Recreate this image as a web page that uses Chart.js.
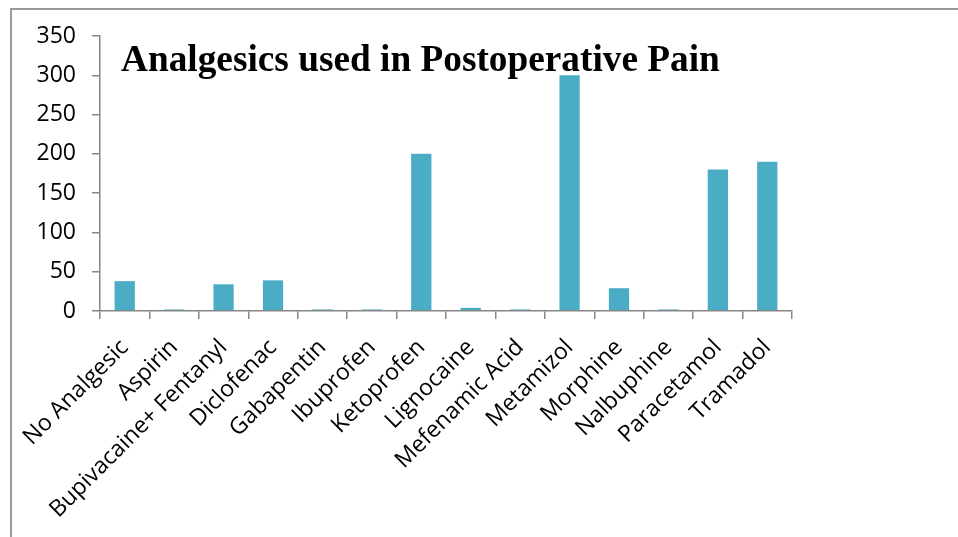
<!DOCTYPE html>
<html>
<head>
<meta charset="utf-8">
<script src="https://cdn.jsdelivr.net/npm/chart.js@4.4.1/dist/chart.umd.min.js"></script>
<style>
  html, body { margin: 0; padding: 0; background: #fff; }
  #wrap { position: relative; width: 958px; height: 537px; overflow: hidden; }
  /* frame lines of the pasted figure */
  #frame { position: absolute; left: 10px; top: 8px; right: -4px; bottom: -4px;
           border-left: 2px solid #9a9a9a; border-top: 2px solid #9a9a9a; }
  #title { position: absolute; left: 121px; top: 37px; margin: 0;
           font-family: "Liberation Serif", "Times New Roman", serif; font-weight: bold;
           font-size: 37.3px; color: #000; white-space: nowrap; }
  canvas { position: absolute; left: 0; top: 0; }
</style>
</head>
<body>
<div id="wrap">
  <div id="frame"></div>
  <canvas id="barChart" width="958" height="537"></canvas>
  <div id="title">Analgesics used in Postoperative Pain</div>
</div>
<script>
// Categories and counts
const drugLabels = ['No Analgesic', 'Aspirin', 'Bupivacaine+ Fentanyl', 'Diclofenac', 'Gabapentin',
  'Ibuprofen', 'Ketoprofen', 'Lignocaine', 'Mefenamic Acid', 'Metamizol', 'Morphine',
  'Nalbuphine', 'Paracetamol', 'Tramadol'];
const drugCounts = [38, 2, 34, 39, 2, 2, 200, 4, 2, 300, 29, 2, 180, 190];
const yTicks = [0, 50, 100, 150, 200, 250, 300, 350];

const axisGrey = '#868686';
const tickFont = { family: "'Open Sans', sans-serif", size: 23 };

const ctx = document.getElementById('barChart').getContext('2d');
new Chart(ctx, {
  type: 'bar',
  data: {
    labels: drugLabels,
    datasets: [{
      data: drugCounts,
      backgroundColor: '#4BACC6',
      barPercentage: 0.41,
      categoryPercentage: 1.0
    }]
  },
  options: {
    responsive: false,
    animation: false,
    layout: { padding: { left: 0, top: 36, right: 166, bottom: 0 } },
    plugins: { legend: { display: false }, tooltip: { enabled: false }, title: { display: false } },
    scales: {
      x: {
        grid: { drawOnChartArea: false, color: axisGrey, lineWidth: 1.5, tickLength: 8, offset: true },
        border: { color: axisGrey, width: 1.5, z: 1 },
        ticks: { color: '#000', font: tickFont, autoSkip: false, maxRotation: 45, minRotation: 45, padding: 15 },
        afterFit: (scale) => { scale.height = 226; }
      },
      y: {
        min: 0,
        max: 350,
        afterBuildTicks: (scale) => { scale.ticks = yTicks.map(v => ({ value: v })); },
        grid: { drawOnChartArea: false, color: axisGrey, lineWidth: 1.5, tickLength: 8 },
        border: { color: axisGrey, width: 1.5 },
        ticks: { color: '#000', font: tickFont, padding: 16 },
        afterFit: (scale) => { scale.width = 100; }
      }
    }
  }
});
</script>
</body>
</html>
